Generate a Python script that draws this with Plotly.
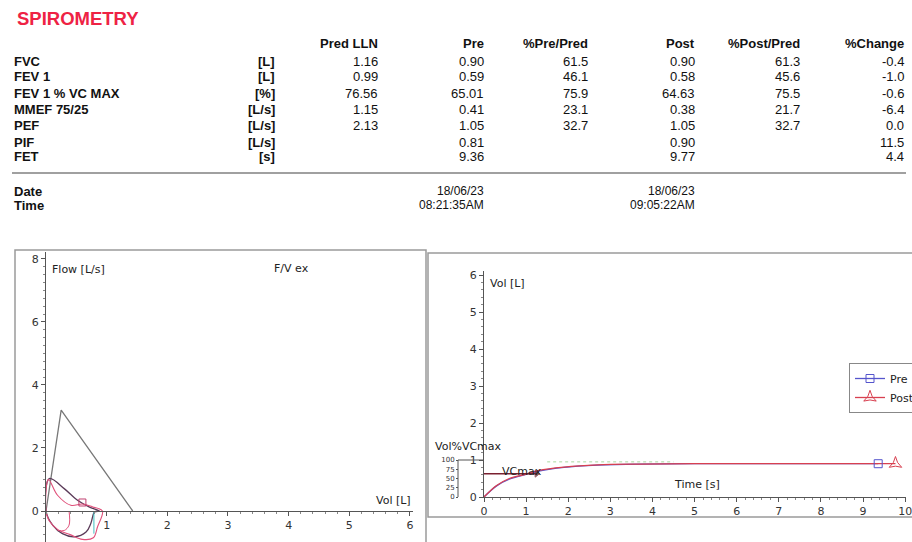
import plotly.graph_objects as go

W, H = 912, 542

# ---------------- table data ----------------
param_names = ["FVC", "FEV 1", "FEV 1 % VC MAX", "MMEF 75/25", "PEF", "PIF", "FET"]
param_units = ["[L]", "[L]", "[%]", "[L/s]", "[L/s]", "[L/s]", "[s]"]
col_headers = ["Pred LLN", "Pre", "%Pre/Pred", "Post", "%Post/Pred", "%Change"]
pred_lln = [1.16, 0.99, 76.56, 1.15, 2.13, None, None]
pre_vals = [0.90, 0.59, 65.01, 0.41, 1.05, 0.81, 9.36]
pre_pct = [61.5, 46.1, 75.9, 23.1, 32.7, None, None]
post_vals = [0.90, 0.58, 64.63, 0.38, 1.05, 0.90, 9.77]
post_pct = [61.3, 45.6, 75.5, 21.7, 32.7, None, None]
pct_change = [-0.4, -1.0, -0.6, -6.4, 0.0, 11.5, 4.4]
pre_date, pre_time = "18/06/23", "08:21:35AM"
post_date, post_time = "18/06/23", "09:05:22AM"

# ---------------- flow / volume data ----------------
pred_fv_vol = [0, 0.25, 1.43]
pred_fv_flow = [0, 3.2, 0]
pre_fv_vol = [0, 0.055, 0.30, 0.52, 0.71, 0.88, 0.80, 0.74, 0.66, 0.47, 0.27, 0.11, 0]
pre_fv_flow = [0, 1.03, 0.71, 0.34, 0.13, 0, -0.03, -0.39, -0.67, -0.82, -0.72, -0.45, 0]
post_fv_vol = [0, 0.04, 0.19, 0.41, 0.60, 0.77, 0.93, 0.85, 0.78, 0.60, 0.40, 0.20, 0.05, 0]
post_fv_flow = [0, 1.00, 0.50, 0.18, 0.22, 0.13, 0, -0.50, -0.85, -0.90, -0.75, -0.60, -0.30, 0]
post_fv2_vol = [0.38, 0.38, 0.30, 0.19]
post_fv2_flow = [0, -0.45, -0.62, -0.61]
insp_vol = [0.79, 0.79]
insp_flow = [0, -0.72]
mark_vol = [0.60]
mark_flow = [0.27]

# ---------------- volume / time data ----------------
pre_t = [0, 0.3, 0.6, 1.0, 1.3, 1.9, 2.7, 3.7, 5.0, 7.0, 9.36]
pre_v = [0, 0.30, 0.48, 0.61, 0.70, 0.80, 0.86, 0.89, 0.90, 0.90, 0.90]
post_t = [0, 0.3, 0.6, 1.0, 1.3, 1.9, 2.7, 3.7, 5.0, 7.0, 9.77]
post_v = [0, 0.31, 0.50, 0.62, 0.72, 0.81, 0.87, 0.89, 0.90, 0.90, 0.90]
vcmax_t = [0, 1.25]
vcmax_v = [0.63, 0.63]
ref_t = [1.5, 4.5]
ref_v = [0.95, 0.95]
volpct_ticks = [0, 25, 50, 75, 100]


def px(x):
    return x / W


def py(y):
    return 1 - y / H


def fmt(v, d):
    return "" if v is None else f"{v:.{d}f}"


fig = go.Figure()

# left flow-volume
fig.add_trace(go.Scatter(x=pred_fv_vol, y=pred_fv_flow, xaxis="x", yaxis="y", mode="lines",
                         line=dict(color="#777777", width=1.3), showlegend=False, hoverinfo="skip"))
fig.add_trace(go.Scatter(x=pre_fv_vol, y=pre_fv_flow, xaxis="x", yaxis="y", mode="lines",
                         line=dict(color="#5a3a58", width=1.3, shape="spline"), showlegend=False))
fig.add_trace(go.Scatter(x=post_fv_vol, y=post_fv_flow, xaxis="x", yaxis="y", mode="lines",
                         line=dict(color="#e0507a", width=1.1, shape="spline"), showlegend=False))
fig.add_trace(go.Scatter(x=post_fv2_vol, y=post_fv2_flow, xaxis="x", yaxis="y", mode="lines",
                         line=dict(color="#e0507a", width=1.0, shape="spline"), showlegend=False))
fig.add_trace(go.Scatter(x=insp_vol, y=insp_flow, xaxis="x", yaxis="y", mode="lines",
                         line=dict(color="#40c0c0", width=1.0), showlegend=False))
fig.add_trace(go.Scatter(x=mark_vol, y=mark_flow, xaxis="x", yaxis="y", mode="markers",
                         marker=dict(symbol="square-open", size=7, color="#c04070", line=dict(width=1)),
                         showlegend=False))

# right volume-time
fig.add_trace(go.Scatter(x=[], y=[], xaxis="x2", yaxis="y3", mode="lines", showlegend=False,
                         hoverinfo="skip"))
fig.add_trace(go.Scatter(x=ref_t, y=ref_v, xaxis="x2", yaxis="y2", mode="lines",
                         line=dict(color="#a8d8a0", width=1, dash="dot"), showlegend=False))
fig.add_trace(go.Scatter(x=pre_t, y=pre_v, xaxis="x2", yaxis="y2", mode="lines",
                         line=dict(color="#5555cc", width=1.3, shape="spline"), showlegend=False,
                         legendgroup="pre"))
fig.add_trace(go.Scatter(x=post_t, y=post_v, xaxis="x2", yaxis="y2", mode="lines",
                         line=dict(color="#d84050", width=1.3, shape="spline"), showlegend=False,
                         legendgroup="post"))
fig.add_trace(go.Scatter(x=[pre_t[-1]], y=[pre_v[-1]], xaxis="x2", yaxis="y2", mode="lines+markers",
                         name="Pre", legendgroup="pre",
                         line=dict(color="#5555cc", width=1.3),
                         marker=dict(symbol="square-open", size=8, color="#5555cc")))
fig.add_trace(go.Scatter(x=[post_t[-1]], y=[post_v[-1]], xaxis="x2", yaxis="y2", mode="lines+markers",
                         name="Post", legendgroup="post",
                         line=dict(color="#d84050", width=1.3),
                         marker=dict(symbol="star-triangle-up-open", size=9, color="#d84050")))
fig.add_trace(go.Scatter(x=vcmax_t, y=vcmax_v, xaxis="x2", yaxis="y2", mode="lines+markers",
                         line=dict(color="#7a2030", width=1.4),
                         marker=dict(symbol=["line-ns", "triangle-right"], size=[0, 6], color="#3a2020"),
                         showlegend=False))

tickfont = dict(family="DejaVu Sans", size=11, color="#333333")
axis_common = dict(showline=True, linecolor="#555555", linewidth=1, ticks="outside", ticklen=4,
                   tickcolor="#555555", showgrid=False, zeroline=False, tickfont=tickfont,
                   fixedrange=True, automargin=False)

annotations = []


def add_text(x, y, text, anchor="left", size=13, bold=False, color="#111111", family="Liberation Sans"):
    annotations.append(dict(
        x=px(x), y=py(y), xref="paper", yref="paper", text=f"<b>{text}</b>" if bold else text,
        showarrow=False, xanchor=anchor, yanchor="middle",
        font=dict(family=family, size=size, color=color)))


# title
add_text(15, 19, "SPIROMETRY", size=18.5, bold=True, color="#ee2244")
# headers
col_right = [380, 486, 590, 697, 802, 906]
for cx, hdr in zip(col_right, col_headers):
    add_text(cx, 43, hdr, anchor="right", bold=True)
row_y = [61, 77, 93, 109, 126, 142, 157]
cols = [(pred_lln, 2), (pre_vals, 2), (pre_pct, 1), (post_vals, 2), (post_pct, 1), (pct_change, 1)]
for i, ry in enumerate(row_y):
    add_text(12, ry, param_names[i], bold=True)
    add_text(277, ry, param_units[i], anchor="right", bold=True)
    for cx, (vals, d) in zip(col_right, cols):
        t = fmt(vals[i], d)
        if t:
            add_text(cx, ry, t, anchor="right")
add_text(12, 191, "Date", bold=True)
add_text(12, 205, "Time", bold=True)
add_text(486, 191, pre_date, anchor="right", size=12)
add_text(486, 205, pre_time, anchor="right", size=12)
add_text(697, 191, post_date, anchor="right", size=12)
add_text(697, 205, post_time, anchor="right", size=12)

# chart labels
pf = "DejaVu Sans"
add_text(50, 269, "Flow [L/s]", size=11, family=pf, color="#222222")
add_text(272, 268, "F/V ex", size=11, family=pf, color="#222222")
add_text(413, 500, "Vol [L]", anchor="right", size=11, family=pf, color="#222222")
add_text(488, 283, "Vol [L]", size=11, family=pf, color="#222222")
add_text(672, 484, "Time [s]", size=11, family=pf, color="#222222")
add_text(433, 446, "Vol%VCmax", size=11, family=pf, color="#222222")
annotations.append(dict(x=0.38, y=0.70, xref="x2", yref="y2", text="VCmax", showarrow=False,
                        xanchor="left", yanchor="middle",
                        font=dict(family=pf, size=11, color="#222222")))

shapes = [
    # table separator
    dict(type="line", xref="paper", yref="paper", x0=px(12), x1=px(906), y0=py(173), y1=py(173),
         line=dict(color="#a0a0a0", width=2)),
    # left frame
    dict(type="rect", xref="paper", yref="paper", x0=px(15), x1=px(426), y0=py(250), y1=py(560),
         line=dict(color="#9a9a9a", width=1.5)),
    # right frame
    dict(type="rect", xref="paper", yref="paper", x0=px(428), x1=px(925), y0=py(253), y1=py(517),
         line=dict(color="#9a9a9a", width=1.5)),
    # Vol% axis bracket
    dict(type="line", xref="paper", yref="paper", x0=px(458), x1=px(484), y0=py(460), y1=py(460),
         line=dict(color="#555555", width=1)),
    dict(type="line", xref="paper", yref="paper", x0=px(458), x1=px(458), y0=py(460), y1=py(497),
         line=dict(color="#555555", width=1)),
]

fig.update_layout(
    width=W, height=H, autosize=False,
    margin=dict(l=0, r=0, t=0, b=0, autoexpand=False),
    paper_bgcolor="white", plot_bgcolor="rgba(0,0,0,0)",
    xaxis=dict(axis_common, domain=[px(46), px(413)], range=[0, 6.05], anchor="free",
               position=py(511), tickvals=[1, 2, 3, 4, 5, 6],
               minor=dict(ticks="outside", ticklen=2, tickcolor="#888888", dtick=0.2, showgrid=False)),
    yaxis=dict(axis_common, domain=[0, py(252)], range=[-0.984, 8.22], anchor="x",
               tickvals=[0, 2, 4, 6, 8],
               minor=dict(ticks="outside", ticklen=2, tickcolor="#888888", dtick=0.25, showgrid=False)),
    xaxis2=dict(axis_common, domain=[px(484), px(906)], range=[0, 10.02], anchor="y2", dtick=1,
                ticklabeloverflow="allow",
                minor=dict(ticks="outside", ticklen=2, tickcolor="#888888", dtick=0.2, showgrid=False)),
    yaxis2=dict(axis_common, domain=[py(497), py(271)], range=[0, 6.11], anchor="x2", dtick=1,
                minor=dict(ticks="outside", ticklen=2, tickcolor="#888888", dtick=0.2, showgrid=False)),
    yaxis3=dict(axis_common, overlaying="y2", anchor="free", position=px(458), side="left",
                range=[0, 611], tickvals=volpct_ticks, ticklen=2, showline=False,
                tickfont=dict(family=pf, size=7, color="#333333")),
    legend=dict(x=px(849), y=py(363), xanchor="left", yanchor="top", bgcolor="white",
                bordercolor="#888888", borderwidth=1, tracegroupgap=0,
                font=dict(family=pf, size=11, color="#222222")),
    annotations=annotations,
    shapes=shapes,
)

fig.write_html("out.html", config={"displayModeBar": False},
               post_script="document.body.style.margin='0px';document.body.style.overflow='hidden';")
